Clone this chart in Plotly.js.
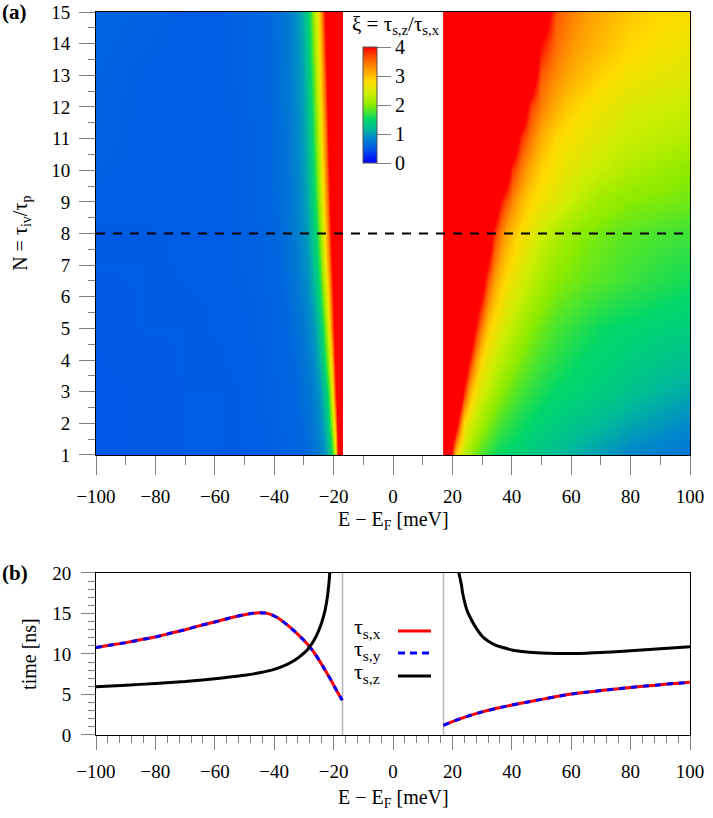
<!DOCTYPE html>
<html>
<head>
<meta charset="utf-8">
<script src="https://cdn.plot.ly/plotly-3.0.1.min.js"></script>
<style>
  html, body { margin: 0; padding: 0; background: #fff; }
  #chart { width: 713px; height: 818px; }
</style>
</head>
<body>
<div id="chart"></div>
<script>
// ---------- panel (a): ratio xi = tau_s,z / tau_s,x over (E - E_F, N) ----------
// hole side (E < 0), rows are N values
const nLeft = [1, 3, 5, 7, 9, 11, 13, 15];
const eLeft = [-100, -85, -70, -58, -48, -42, -38, -35, -32.5, -30.5, -29, -27.5, -26.5,
               -25.5, -24.5, -23.5, -22.5, -21.5, -20.5, -19.5, -18.5, -17.7, -17.15];
const xiLeft = [
  [0.50,0.51,0.52,0.52,0.53,0.54,0.56,0.58,0.59,0.60,0.63,0.68,0.71,0.74,0.80,0.89,0.99,1.23,1.55,2.43,4.10,4.6,4.6],
  [0.50,0.51,0.52,0.52,0.53,0.56,0.58,0.59,0.61,0.67,0.71,0.75,0.82,0.90,0.98,1.17,1.38,1.77,2.62,3.69,4.6,4.6,4.6],
  [0.51,0.52,0.52,0.53,0.54,0.57,0.59,0.62,0.68,0.73,0.81,0.91,0.98,1.13,1.32,1.59,2.04,2.71,3.49,4.36,4.6,4.6,4.6],
  [0.52,0.52,0.53,0.53,0.56,0.58,0.61,0.69,0.75,0.86,0.94,1.09,1.26,1.45,1.74,2.23,2.78,3.38,3.99,4.6,4.6,4.6,4.6],
  [0.53,0.53,0.53,0.53,0.57,0.59,0.66,0.72,0.82,0.93,1.05,1.29,1.48,1.75,2.21,2.70,3.23,3.78,4.59,4.6,4.6,4.6,4.6],
  [0.57,0.53,0.53,0.53,0.57,0.60,0.67,0.74,0.85,0.96,1.14,1.38,1.66,2.03,2.50,3.00,3.54,4.16,4.6,4.6,4.6,4.6,4.6],
  [0.58,0.54,0.53,0.53,0.58,0.60,0.69,0.75,0.89,1.00,1.24,1.55,1.86,2.32,2.77,3.31,3.85,4.6,4.6,4.6,4.6,4.6,4.6],
  [0.60,0.57,0.53,0.54,0.58,0.62,0.70,0.78,0.92,1.08,1.33,1.74,2.15,2.58,3.07,3.62,4.3,4.6,4.6,4.6,4.6,4.6,4.6]
];

// electron side (E > 0)
const nRight = [1, 2, 3, 4, 5, 6.5, 8, 9, 10, 11, 12, 13, 14, 15];
const eRight = [17.15, 17.7, 18.5, 19.5, 20.5, 21.5, 22.5, 24, 26, 28, 30, 32, 34, 36, 38, 40,
                43, 46, 50, 55, 60, 65, 70, 75, 80, 90, 100];
const xiRight = [
  [4.6,4.6,4.6,4.1,3.2,2.7,2.5,2.29,2.06,1.89,1.75,1.67,1.58,1.5,1.47,1.44,1.39,1.34,1.28,1.2,1.13,1.06,0.99,0.92,0.85,0.78,0.72],
  [4.6,4.6,4.6,4.6,4.6,4.08,3.48,2.78,2.50,2.29,2.12,1.97,1.87,1.76,1.70,1.64,1.56,1.49,1.43,1.37,1.3,1.25,1.19,1.13,1.07,0.98,0.88],
  [4.6,4.6,4.6,4.6,4.6,4.6,4.6,3.82,3.04,2.67,2.45,2.30,2.16,2.02,1.93,1.85,1.74,1.67,1.59,1.49,1.46,1.41,1.36,1.31,1.25,1.16,1.07],
  [4.6,4.6,4.6,4.6,4.6,4.6,4.6,4.6,3.85,3.2,2.77,2.59,2.42,2.30,2.18,2.07,1.94,1.84,1.73,1.64,1.55,1.49,1.45,1.41,1.37,1.30,1.23],
  [4.6,4.6,4.6,4.6,4.6,4.6,4.6,4.6,4.6,3.87,3.33,2.9,2.69,2.55,2.4,2.3,2.15,2.0,1.89,1.75,1.68,1.60,1.53,1.49,1.47,1.42,1.38],
  [4.6,4.6,4.6,4.6,4.6,4.6,4.6,4.6,4.6,4.6,4.25,3.6,3.2,2.95,2.76,2.64,2.46,2.32,2.16,1.99,1.92,1.85,1.80,1.75,1.7,1.63,1.56],
  [4.6,4.6,4.6,4.6,4.6,4.6,4.6,4.6,4.6,4.6,4.6,4.6,3.8,3.44,3.16,2.98,2.75,2.6,2.4,2.23,2.07,1.97,1.91,1.85,1.82,1.76,1.72],
  [4.6,4.6,4.6,4.6,4.6,4.6,4.6,4.6,4.6,4.6,4.6,4.6,4.6,3.95,3.62,3.35,3.05,2.82,2.68,2.52,2.36,2.23,2.10,2.04,1.98,1.94,1.89],
  [4.6,4.6,4.6,4.6,4.6,4.6,4.6,4.6,4.6,4.6,4.6,4.6,4.6,4.6,4.43,3.78,3.40,3.11,2.84,2.69,2.57,2.45,2.36,2.28,2.2,2.1,2.0],
  [4.6,4.6,4.6,4.6,4.6,4.6,4.6,4.6,4.6,4.6,4.6,4.6,4.6,4.6,4.6,4.6,3.77,3.43,3.09,2.80,2.70,2.61,2.51,2.41,2.37,2.29,2.22],
  [4.6,4.6,4.6,4.6,4.6,4.6,4.6,4.6,4.6,4.6,4.6,4.6,4.6,4.6,4.6,4.6,4.6,3.75,3.38,3.09,2.87,2.74,2.65,2.57,2.48,2.42,2.36],
  [4.6,4.6,4.6,4.6,4.6,4.6,4.6,4.6,4.6,4.6,4.6,4.6,4.6,4.6,4.6,4.6,4.6,4.6,3.59,3.31,3.11,2.97,2.83,2.75,2.68,2.59,2.52],
  [4.6,4.6,4.6,4.6,4.6,4.6,4.6,4.6,4.6,4.6,4.6,4.6,4.6,4.6,4.6,4.6,4.6,4.6,3.97,3.49,3.27,3.13,3.02,2.92,2.81,2.72,2.64],
  [4.6,4.6,4.6,4.6,4.6,4.6,4.6,4.6,4.6,4.6,4.6,4.6,4.6,4.6,4.6,4.6,4.6,4.6,4.6,3.6,3.39,3.23,3.12,3.0,2.93,2.8,2.75]
];

const cutN = 8;                 // cut shown in panel (b)
const xiTicks = [0, 1, 2, 3, 4];
const energyRange = [-100, 100];
const nRange = [1, 15];

// ---------- panel (b): spin relaxation times at N = 8 ----------
const eXLeft   = [-100,-95,-90,-85,-80,-75,-70,-65,-60,-55,-50,-47,-45,-43,-41,-39,-37,-35,-33,-31,-29,-27,-25,-23,-21,-19,-17.1];
const tauXLeft = [10.8,11.1,11.4,11.75,12.1,12.55,13.0,13.5,13.95,14.45,14.85,15.03,15.1,15.05,14.85,14.5,14.0,13.4,12.75,12.05,11.3,10.4,9.3,8.1,6.85,5.5,4.3];
const eXRight   = [17,20,25,30,35,40,45,50,55,60,65,70,75,80,85,90,95,100];
const tauXRight = [1.2,1.65,2.3,2.85,3.3,3.7,4.05,4.4,4.75,5.05,5.28,5.48,5.68,5.87,6.05,6.2,6.37,6.5];
// tau_s,y coincides with tau_s,x
const tauYLeft = tauXLeft;
const tauYRight = tauXRight;

const eZLeft   = [-100,-90,-80,-70,-60,-55,-50,-45,-40,-36,-33,-31,-29,-28,-27,-26,-25,-24,-23,-22.5,-22,-21.5,-21,-20.6];
const tauZLeft = [5.95,6.15,6.35,6.6,6.95,7.15,7.38,7.68,8.1,8.65,9.25,9.8,10.45,10.9,11.45,12.1,12.9,13.9,15.2,16.1,17.3,19.0,21.5,24];
const eZRight   = [21.4,21.8,22.2,23,23.5,24,25,26,27.5,30,32,34.5,37,40,45,50,55,60,65,70,80,90,100];
const tauZRight = [22.5,21.0,20.0,18.6,17.4,16.6,15.3,14.5,13.5,12.2,11.6,11.1,10.8,10.5,10.25,10.12,10.06,10.05,10.1,10.18,10.4,10.65,10.9];

const gapEdges = [-17, 17];
const timeRange = [0, 20];

// ---------- styling ----------
const serif = '"Liberation Serif", "Times New Roman", Times, serif';
const xiColors = [
  [0.0,    'rgb(0,0,255)'],
  [0.125,  'rgb(0,88,230)'],
  [0.225,  'rgb(0,140,200)'],
  [0.3,    'rgb(0,190,150)'],
  [0.375,  'rgb(0,215,105)'],
  [0.4375, 'rgb(70,228,50)'],
  [0.5,    'rgb(140,235,0)'],
  [0.6,    'rgb(205,238,0)'],
  [0.7,    'rgb(255,218,0)'],
  [0.8,    'rgb(255,160,0)'],
  [0.9,    'rgb(255,90,0)'],
  [1.0,    'rgb(255,0,0)']
];

const curve = (x, y, color, dash) => ({
  type: 'scatter', mode: 'lines', x: x, y: y, xaxis: 'x2', yaxis: 'y2', showlegend: false,
  line: { color: color, width: 3, dash: dash || 'solid', shape: 'spline', smoothing: 0.5 }
});

const traces = [
  { type: 'heatmap', x: eLeft, y: nLeft, z: xiLeft, coloraxis: 'coloraxis',
    zsmooth: 'best', xaxis: 'x', yaxis: 'y', hoverinfo: 'skip' },
  { type: 'heatmap', x: eRight, y: nRight, z: xiRight, coloraxis: 'coloraxis',
    zsmooth: 'best', xaxis: 'x', yaxis: 'y', hoverinfo: 'skip' },
  { type: 'scatter', mode: 'lines', x: energyRange, y: [cutN, cutN], xaxis: 'x', yaxis: 'y',
    line: { color: '#000', width: 2.2, dash: '9px,8px' }, showlegend: false },

  // gap edges in panel (b)
  ...gapEdges.map(e => ({ type: 'scatter', mode: 'lines', x: [e, e], y: timeRange,
    xaxis: 'x2', yaxis: 'y2', line: { color: '#b4b4b4', width: 1.5 }, showlegend: false })),

  curve(eXLeft, tauXLeft, 'rgb(255,0,0)'),
  curve(eXRight, tauXRight, 'rgb(255,0,0)'),
  curve(eXLeft, tauYLeft, 'rgb(0,0,255)', '6px,6px'),
  curve(eXRight, tauYRight, 'rgb(0,0,255)', '6px,6px'),
  curve(eZLeft, tauZLeft, '#000'),
  curve(eZRight, tauZRight, '#000')
];

const tickStyle = {
  ticks: 'outside', tickcolor: '#808080', tickwidth: 1,
  showline: true, linecolor: '#000', linewidth: 1, mirror: true,
  showgrid: false, zeroline: false,
  tickfont: { family: serif, size: 19, color: '#000' }
};

// legend of panel (b): label on the left, line sample on the right
const legendRows = [
  { label: 'τ<sub>s,x</sub>', color: 'rgb(255,0,0)', dash: 'solid', y: 0.1438 },
  { label: 'τ<sub>s,y</sub>', color: 'rgb(0,0,255)', dash: '7px,5px', y: 0.1134 },
  { label: 'τ<sub>s,z</sub>', color: '#000', dash: 'solid', y: 0.0816 }
];

const layout = {
  width: 713, height: 818,
  margin: { l: 96, r: 23, t: 12, b: 83 },
  paper_bgcolor: '#fff', plot_bgcolor: '#fff',
  showlegend: false,
  font: { family: serif, color: '#000' },
  xaxis: Object.assign({}, tickStyle, {
    domain: [0, 1], anchor: 'y', range: energyRange, dtick: 20, tick0: 0, ticklen: 19,
    ticklabelstandoff: 5,
    minor: { dtick: 10, ticklen: 9, ticks: 'outside', tickcolor: '#808080' }
  }),
  yaxis: Object.assign({}, tickStyle, {
    domain: [0.3873, 1], anchor: 'x', range: nRange, dtick: 1, tick0: 0, ticklen: 16,
    ticklabelstandoff: 5,
    minor: { dtick: 0.5, ticklen: 7, ticks: 'outside', tickcolor: '#808080' }
  }),
  xaxis2: Object.assign({}, tickStyle, {
    domain: [0, 1], anchor: 'y2', range: energyRange, dtick: 20, tick0: 0, ticklen: 14,
    ticklabelstandoff: 5,
    minor: { dtick: 4, ticklen: 7, ticks: 'outside', tickcolor: '#808080' }
  }),
  yaxis2: Object.assign({}, tickStyle, {
    domain: [0, 0.2241], anchor: 'x2', range: timeRange, dtick: 5, tick0: 0, ticklen: 14,
    ticklabelstandoff: 6,
    minor: { dtick: 1, ticklen: 7, ticks: 'outside', tickcolor: '#808080' }
  }),
  coloraxis: {
    cmin: 0, cmax: 4, colorscale: xiColors,
    colorbar: {
      x: 0.4495, xanchor: 'left', xref: 'paper',
      y: 0.8707, yanchor: 'middle',
      lenmode: 'pixels', len: 116, thickness: 14,
      outlinewidth: 1, outlinecolor: '#555',
      tickvals: xiTicks, ticks: 'outside', ticklen: 14, tickcolor: '#808080',
      tickfont: { family: serif, size: 20, color: '#000' },
      xpad: 0, ypad: 0, bgcolor: 'rgba(0,0,0,0)'
    }
  },
  annotations: [
    { text: '<b>(a)</b>', xref: 'paper', yref: 'paper', x: -0.1616, y: 1.0, xanchor: 'left', yanchor: 'middle',
      showarrow: false, font: { family: serif, size: 21 } },
    { text: '<b>(b)</b>', xref: 'paper', yref: 'paper', x: -0.1616, y: 0.2241, xanchor: 'left', yanchor: 'middle',
      showarrow: false, font: { family: serif, size: 21 } },
    { text: 'ξ = τ<sub>s,z</sub>/τ<sub>s,x</sub>', xref: 'paper', yref: 'paper', x: 0.5051, y: 0.9820,
      xanchor: 'center', yanchor: 'middle', showarrow: false, font: { family: serif, size: 21 } },
    { text: 'E − E<sub>F</sub> [meV]', xref: 'paper', yref: 'paper', x: 0.5, y: 0.2960,
      xanchor: 'center', yanchor: 'middle', showarrow: false, font: { family: serif, size: 20 } },
    { text: 'E − E<sub>F</sub> [meV]', xref: 'paper', yref: 'paper', x: 0.5, y: -0.0885,
      xanchor: 'center', yanchor: 'middle', showarrow: false, font: { family: serif, size: 20 } },
    { text: 'N = τ<sub>iv</sub>/τ<sub>p</sub>', xref: 'paper', yref: 'paper', x: -0.1266, y: 0.6943,
      xanchor: 'center', yanchor: 'middle', textangle: -90, showarrow: false, font: { family: serif, size: 20 } },
    { text: 'time [ns]', xref: 'paper', yref: 'paper', x: -0.1130, y: 0.1120,
      xanchor: 'center', yanchor: 'middle', textangle: -90, showarrow: false, font: { family: serif, size: 20 } },
    ...legendRows.map(r => ({ text: r.label, xref: 'paper', yref: 'paper', x: 0.4310, y: r.y + 0.004,
      xanchor: 'left', yanchor: 'middle', showarrow: false, font: { family: serif, size: 22 } }))
  ],
  shapes: legendRows.map(r => ({
    type: 'line', xref: 'paper', yref: 'paper', x0: 0.5084, x1: 0.5640, y0: r.y, y1: r.y,
    line: { color: r.color, width: 3, dash: r.dash }
  }))
};

Plotly.newPlot('chart', traces, layout, { displayModeBar: false, staticPlot: true });
</script>
</body>
</html>
